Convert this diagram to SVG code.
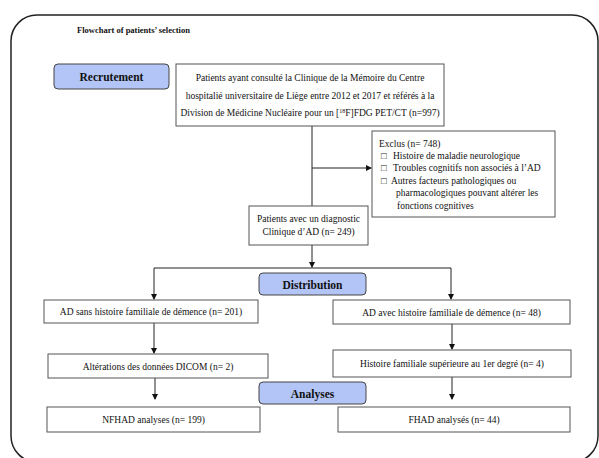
<svg xmlns="http://www.w3.org/2000/svg" width="599" height="458" viewBox="0 0 599 458">
<defs>
<marker id="ah" markerWidth="6" markerHeight="6" refX="5" refY="3" orient="auto" markerUnits="userSpaceOnUse">
<path d="M0,0 L6,3 L0,6 Z" fill="#111"/>
</marker>
<style>
.t{font-family:"Liberation Serif","Times New Roman",serif;font-size:9.5px;fill:#111}
.c{text-anchor:middle}
.b{font-family:"Liberation Serif","Times New Roman",serif;font-weight:bold;fill:#111;text-anchor:middle}
.box{fill:#fff;stroke:#555;stroke-width:1}
.hd{fill:#b3c5f6;stroke:#444;stroke-width:1}
.ln{fill:none;stroke:#222;stroke-width:1}
</style>
</defs>
<rect x="11" y="15" width="587" height="447" rx="26" fill="#fff" stroke="#222" stroke-width="1.5"/>
<text x="77" y="33" style="font-family:'Liberation Serif',serif;font-weight:bold;font-size:8.5px;fill:#111">Flowchart of patients’ selection</text>

<g id="connectors">
<path class="ln" d="M312,126 V206"/>
<path class="ln" d="M312,168 H371" marker-end="url(#ah)"/>
<path class="ln" d="M312,245 V267" marker-end="url(#ah)"/>
<path class="ln" d="M154,268 H451 V299" marker-end="url(#ah)"/>
<path class="ln" d="M154,268 V299" marker-end="url(#ah)"/>
<path class="ln" d="M154,323 V353" marker-end="url(#ah)"/>
<path class="ln" d="M452,324 V349" marker-end="url(#ah)"/>
<path class="ln" d="M155,378 V399" marker-end="url(#ah)"/>
<path class="ln" d="M452,377 V399" marker-end="url(#ah)"/>
</g>

<g id="recrutement">
<rect class="hd" x="54" y="64" width="115" height="25" rx="4"/>
<text class="b" x="111.5" y="81" font-size="11.5">Recrutement</text>
</g>

<g id="patients">
<rect class="box" x="176" y="64" width="268" height="62"/>
<text class="t c" x="310" y="81">Patients ayant consulté la Clinique de la Mémoire du Centre</text>
<text class="t c" x="310" y="98.5">hospitalié universitaire de Liège entre 2012 et 2017 et référés à la</text>
<text class="t c" x="310" y="116">Division de Médicine Nucléaire pour un [<tspan font-size="6" dy="-3.5">18</tspan><tspan dy="3.5">F]FDG PET/CT (n=997)</tspan></text>
</g>

<g id="exclus">
<rect class="box" x="372" y="131" width="183" height="86"/>
<text class="t" x="379" y="146.5">Exclus (n= 748)</text>
<text class="t" x="381" y="158.5">□</text><text class="t" x="393" y="158.5">Histoire de maladie neurologique</text>
<text class="t" x="381" y="171">□</text><text class="t" x="393" y="171">Troubles cognitifs non associés à l’AD</text>
<text class="t" x="381" y="183.5">□</text><text class="t" x="391" y="183.5">Autres facteurs pathologiques ou</text>
<text class="t" x="396" y="196">pharmacologiques pouvant altérer les</text>
<text class="t" x="397" y="208.5">fonctions cognitives</text>
</g>

<g id="diagnostic">
<rect class="box" x="249" y="206" width="119" height="39"/>
<text class="t c" x="308.5" y="222">Patients avec un diagnostic</text>
<text class="t c" x="308.5" y="235">Clinique d’AD (n= 249)</text>
</g>

<g id="distribution">
<rect class="hd" x="259" y="273" width="107" height="22" rx="4"/>
<text class="b" x="312.5" y="288.5" font-size="11.5">Distribution</text>
</g>

<g id="ad-sans">
<rect class="box" x="44" y="300" width="214" height="23"/>
<text class="t c" x="151" y="315">AD sans histoire familiale de démence (n= 201)</text>
</g>

<g id="ad-avec">
<rect class="box" x="333" y="300" width="237" height="24"/>
<text class="t c" x="451.5" y="315.5">AD avec histoire familiale de démence (n= 48)</text>
</g>

<g id="alterations">
<rect class="box" x="48" y="354" width="220" height="24"/>
<text class="t c" x="158" y="369.5">Altérations des données DICOM (n= 2)</text>
</g>

<g id="histoire-sup">
<rect class="box" x="333" y="350" width="238" height="27"/>
<text class="t c" x="452" y="367">Histoire familiale supérieure au 1er degré (n= 4)</text>
</g>

<g id="analyses">
<rect class="hd" x="259" y="382" width="107" height="22" rx="4"/>
<text class="b" x="312.5" y="397.5" font-size="11.5">Analyses</text>
</g>

<g id="nfhad">
<rect class="box" x="47" y="407" width="213" height="25"/>
<text class="t c" x="153.5" y="423">NFHAD analyses (n= 199)</text>
</g>

<g id="fhad">
<rect class="box" x="338" y="407" width="232" height="25"/>
<text class="t c" x="454" y="423">FHAD analysés (n= 44)</text>
</g>
</svg>
